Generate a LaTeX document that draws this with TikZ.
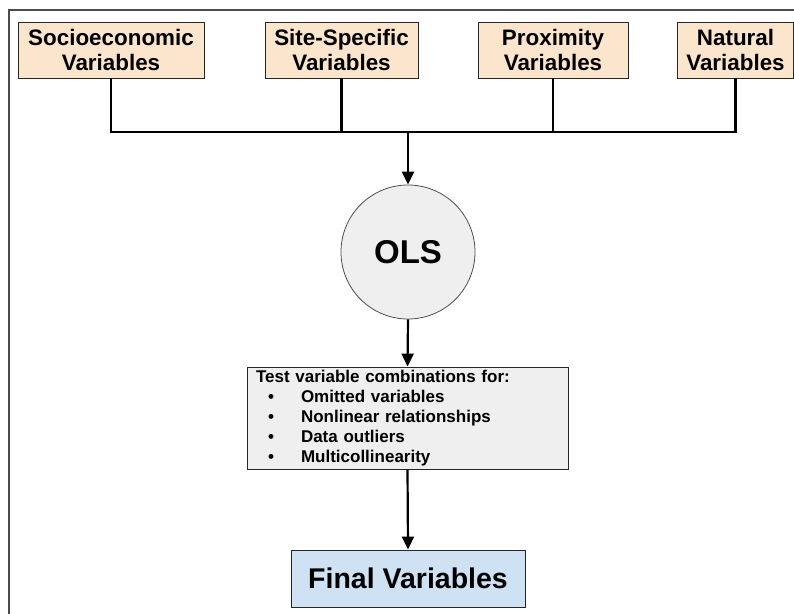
\documentclass[tikz,border=0pt]{standalone}
\usepackage{fontspec}
\setmainfont{Liberation Sans}
\usepackage{tikz}
\usetikzlibrary{arrows.meta,positioning,calc}

\definecolor{varfill}{HTML}{FCE5CD}
\definecolor{olsfill}{HTML}{EFEFEF}
\definecolor{finalfill}{HTML}{CFE2F3}

\tikzset{
  varbox/.style={draw=black!85, line width=0.8pt, fill=varfill, align=center,
    minimum height=56pt, inner sep=0pt,
    font=\bfseries\fontsize{22.4}{25}\selectfont},
  wire/.style={line width=2.2pt},
  tip/.style={-{Triangle[length=13pt,width=12pt]}}
}

\begin{document}
\begin{tikzpicture}[x=1pt, y=-1pt]
  % Page and frame
  \useasboundingbox (0,0) rectangle (794,613);
  \draw[black!70, line width=1.3pt] (9,10) rectangle (810,630);

  % Variable groups
  \node[varbox, minimum width=186pt] (socio) at (111,50) {Socioeconomic\\Variables};
  \node[varbox, minimum width=153pt] (site) at (341.5,50) {Site-Specific\\Variables};
  \node[varbox, minimum width=150pt] (prox) at (553,50) {Proximity\\Variables};
  \node[varbox, minimum width=116pt] (natural) at (735.5,50) {Natural\\Variables};

  % Regression
  \node[circle, draw=black!70, line width=0.8pt, fill=olsfill, minimum size=134pt,
    font=\bfseries\fontsize{33}{40}\selectfont] (ols) at (408,252) {OLS};

  % Tests
  \node[draw=black!85, line width=0.8pt, fill=olsfill, minimum width=321pt,
    minimum height=102pt, text width=303pt, align=left, inner sep=0pt,
    font=\bfseries\fontsize{17}{20}\selectfont] (tests) at (407.5,418)
    {Test variable combinations for:\\
     \makebox[45pt][l]{\hspace*{12pt}\textbullet}Omitted variables\\
     \makebox[45pt][l]{\hspace*{12pt}\textbullet}Nonlinear relationships\\
     \makebox[45pt][l]{\hspace*{12pt}\textbullet}Data outliers\\
     \makebox[45pt][l]{\hspace*{12pt}\textbullet}Multicollinearity};

  % Result
  \node[draw=black!85, line width=0.8pt, fill=finalfill, minimum width=234pt,
    minimum height=57pt, font=\bfseries\fontsize{28.5}{34}\selectfont]
    (final) at (408,578.5) {Final Variables};

  % Connectors
  \coordinate (join) at (408,132);
  \draw[wire] (socio.south) |- (join) -| (natural.south);
  \draw[wire] (site.south) -- (site.south |- join);
  \draw[wire] (prox.south) -- (prox.south |- join);
  \draw[wire, tip] (join) -- (ols.north);
  \draw[wire, tip] (ols.south) -- (tests.north);
  \draw[wire, tip] (tests.south) -- (final.north);
\end{tikzpicture}
\end{document}
